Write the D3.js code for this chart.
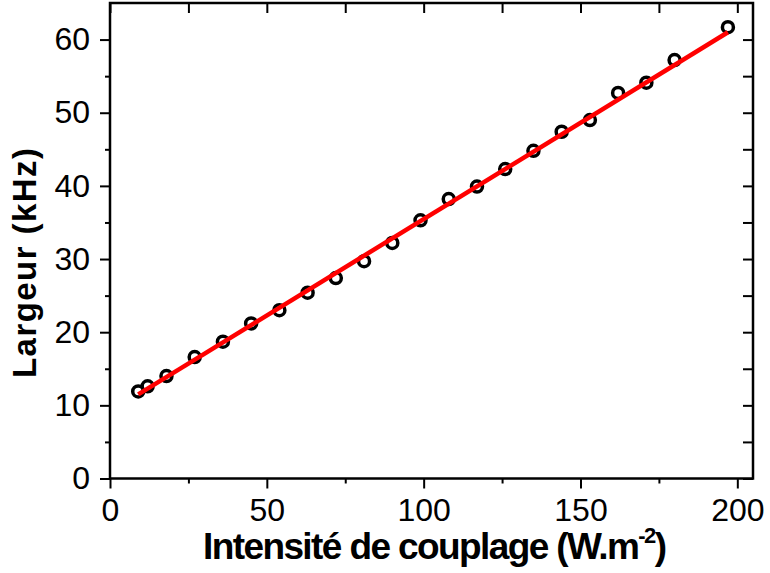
<!DOCTYPE html>
<html>
<head>
<meta charset="utf-8">
<script src="https://cdn.jsdelivr.net/npm/d3@7"></script>
<style>
  html, body { margin: 0; padding: 0; background: #fff; }
  svg { display: block; }
  text { font-family: "Liberation Sans", Arial, sans-serif; fill: #000; }
</style>
</head>
<body>
<svg id="chart" width="770" height="573"></svg>
<script>
// Measured linewidth versus coupling intensity
const intensity = [9, 12, 18, 27, 36, 45, 54, 63, 72, 81, 90, 99, 108, 117, 126, 135, 144, 153, 162, 171, 180, 197];
const largeur   = [11.9, 12.6, 14.0, 16.6, 18.7, 21.2, 23.0, 25.4, 27.4, 29.7, 32.2, 35.3, 38.2, 39.9, 42.3, 44.8, 47.4, 49.0, 52.7, 54.1, 57.2, 61.7];

// Linear fit, given by its two end points
const fitX = [9, 197];
const fitY = [11.5, 61.0];

const xTicks = [0, 50, 100, 150, 200];
const yTicks = [0, 10, 20, 30, 40, 50, 60];
const xTitle = "Intensité de couplage (W.m";
const xTitleSup = "-2";
const yTitle = "Largeur (kHz)";

const svg = d3.select("#chart");
const mLeft = 110, mRight = 753, mTop = 3, mBottom = 478.5;

const x = d3.scaleLinear().domain([0, 205]).range([mLeft, mRight]);
const y = d3.scaleLinear().domain([0, 65]).range([mBottom, mTop]);

const minorX = d3.range(25, 205, 50);
const minorY = d3.range(5, 65, 10);

// Outward ticks on left and bottom
const gx = svg.append("g").attr("transform", `translate(0,${mBottom})`);
gx.call(d3.axisBottom(x).tickValues(xTicks).tickSize(10).tickSizeOuter(0).tickFormat(d3.format("d")));
gx.append("g").call(d3.axisBottom(x).tickValues(minorX).tickSize(5).tickSizeOuter(0).tickFormat(""));

const gy = svg.append("g").attr("transform", `translate(${mLeft},0)`);
gy.call(d3.axisLeft(y).tickValues(yTicks).tickSize(10).tickSizeOuter(0).tickPadding(10).tickFormat(d3.format("d")));
gy.append("g").call(d3.axisLeft(y).tickValues(minorY).tickSize(5).tickSizeOuter(0).tickFormat(""));

// Inward ticks on top and right
const gt = svg.append("g").attr("transform", `translate(0,${mTop})`);
gt.call(d3.axisBottom(x).tickValues(xTicks.concat(minorX)).tickSize(10).tickSizeOuter(0).tickFormat(""));
const gr = svg.append("g").attr("transform", `translate(${mRight},0)`);
gr.call(d3.axisLeft(y).tickValues(yTicks.concat(minorY)).tickSize(10).tickSizeOuter(0).tickFormat(""));

svg.selectAll(".domain").remove();
svg.selectAll(".tick line").attr("stroke", "#000").attr("stroke-width", 2);
svg.selectAll(".tick text").attr("font-size", 32).attr("font-family", "Liberation Sans, Arial, sans-serif");
gx.selectAll(".tick text").attr("dy", "0.71em").attr("y", 20);

// Frame
svg.append("rect")
  .attr("x", mLeft).attr("y", mTop)
  .attr("width", mRight - mLeft).attr("height", mBottom - mTop)
  .attr("fill", "none").attr("stroke", "#000").attr("stroke-width", 2.5);

// Data points
svg.append("g").selectAll("circle")
  .data(intensity.map((v, i) => [v, largeur[i]]))
  .join("circle")
  .attr("cx", d => x(d[0])).attr("cy", d => y(d[1]))
  .attr("r", 5.5)
  .attr("fill", "none").attr("stroke", "#000").attr("stroke-width", 3.5);

// Fit line
svg.append("path")
  .datum(fitX.map((v, i) => [v, fitY[i]]))
  .attr("d", d3.line().x(d => x(d[0])).y(d => y(d[1])))
  .attr("fill", "none").attr("stroke", "#ff0000").attr("stroke-width", 4.5);

// Axis titles
const xt = svg.append("text")
  .attr("x", 203).attr("y", 559)
  .attr("font-size", 37).attr("font-weight", "bold")
  .attr("letter-spacing", -1.6);
xt.append("tspan").text(xTitle);
xt.append("tspan").attr("font-size", 22).attr("dy", -16).text(xTitleSup);
xt.append("tspan").attr("dy", 16).text(")");

svg.append("text")
  .attr("transform", "translate(36,378) rotate(-90)")
  .attr("font-size", 33).attr("font-weight", "bold")
  .attr("textLength", 230).attr("lengthAdjust", "spacing")
  .text(yTitle);
</script>
</body>
</html>
